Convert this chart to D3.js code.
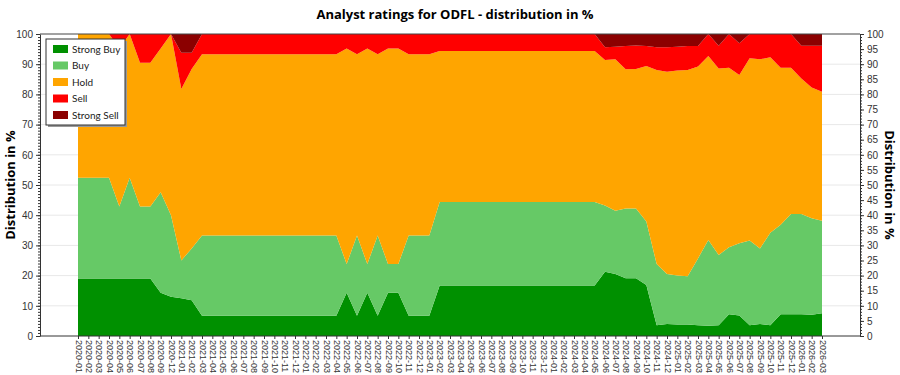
<!DOCTYPE html>
<html>
<head>
<meta charset="utf-8">
<script src="https://cdn.jsdelivr.net/npm/d3@7.9.0/dist/d3.min.js"></script>
<style>
  body { margin: 0; background: #fff; }
  svg { font-family: 'Open Sans', 'Noto Sans', sans-serif; }
  .axis text { fill: #333; font-size: 10px; }
  .axis path, .axis line { stroke: #333; }
  .legend-label { font-family: Lato, 'Liberation Sans', sans-serif; font-size: 10px; fill: #222; }
</style>
</head>
<body>
<svg id="chart" width="900" height="375"></svg>
<script>
// ====== DATA ======

const months = [
  '2020-01', '2020-02', '2020-03', '2020-04', '2020-05', '2020-06', '2020-07', '2020-08', '2020-09', '2020-12',
  '2021-01', '2021-02', '2021-03', '2021-04', '2021-05', '2021-06', '2021-07', '2021-08', '2021-09', '2021-10', '2021-11', '2021-12',
  '2022-01', '2022-02', '2022-03', '2022-04', '2022-05', '2022-06', '2022-07', '2022-08', '2022-09', '2022-10', '2022-11', '2022-12',
  '2023-01', '2023-02', '2023-03', '2023-04', '2023-05', '2023-06', '2023-07', '2023-08', '2023-09', '2023-10', '2023-11', '2023-12',
  '2024-01', '2024-02', '2024-03', '2024-04', '2024-05', '2024-06', '2024-07', '2024-08', '2024-09', '2024-10', '2024-11', '2024-12',
  '2025-01', '2025-02', '2025-03', '2025-04', '2025-05', '2025-06', '2025-07', '2025-08', '2025-09', '2025-10', '2025-11', '2025-12',
  '2026-01', '2026-02', '2026-03'
];

// share of each rating in %, one value per month
const strongBuy = [
  19.0, 19.0, 19.0, 19.0, 19.0, 19.0, 19.0, 19.0, 14.3, 13.0,
  12.5, 11.8, 6.7, 6.7, 6.7, 6.7, 6.7, 6.7, 6.7, 6.7, 6.7, 6.7,
  6.7, 6.7, 6.7, 6.7, 14.3, 6.7, 14.3, 6.7, 14.3, 14.3, 6.7, 6.7,
  6.7, 16.7, 16.7, 16.7, 16.7, 16.7, 16.7, 16.7, 16.7, 16.7, 16.7, 16.7,
  16.7, 16.7, 16.7, 16.7, 16.7, 21.3, 20.5, 19.1, 19.1, 16.9, 3.6, 4.0,
  3.8, 3.8, 3.6, 3.4, 3.6, 7.2, 6.8, 3.6, 4.0, 3.6, 7.2, 7.2,
  7.2, 7.0, 7.5
];
const buy = [
  33.4, 33.4, 33.4, 33.4, 23.9, 33.4, 23.9, 23.9, 33.3, 27.0,
  12.5, 17.2, 26.6, 26.6, 26.6, 26.6, 26.6, 26.6, 26.6, 26.6, 26.6, 26.6,
  26.6, 26.6, 26.6, 26.6, 9.5, 26.6, 9.5, 26.6, 9.5, 9.5, 26.6, 26.6,
  26.6, 27.7, 27.7, 27.7, 27.7, 27.7, 27.7, 27.7, 27.7, 27.7, 27.7, 27.7,
  27.7, 27.7, 27.7, 27.7, 27.7, 21.9, 21.0, 23.1, 23.1, 21.0, 20.2, 16.5,
  16.2, 16.0, 22.1, 28.4, 23.2, 22.2, 23.9, 28.0, 25.0, 30.6, 29.6, 33.2,
  33.2, 32.0, 30.7
];
const hold = [
  47.6, 47.6, 47.6, 47.6, 52.3, 47.6, 47.6, 47.6, 47.6, 60.0,
  56.8, 59.4, 60.0, 60.0, 60.0, 60.0, 60.0, 60.0, 60.0, 60.0, 60.0, 60.0,
  60.0, 60.0, 60.0, 60.0, 71.4, 60.0, 71.4, 60.0, 71.4, 71.4, 60.0, 60.0,
  60.0, 50.0, 50.0, 50.0, 50.0, 50.0, 50.0, 50.0, 50.0, 50.0, 50.0, 50.0,
  50.0, 50.0, 50.0, 50.0, 50.0, 48.2, 50.1, 46.1, 46.2, 51.5, 64.3, 67.0,
  67.9, 68.3, 63.5, 60.9, 61.8, 59.4, 55.7, 60.4, 62.6, 58.1, 52.0, 48.4,
  44.9, 43.3, 42.7
];
const sell = [
  0, 0, 0, 0, 4.8, 0, 9.5, 9.5, 4.8, 0,
  12.0, 5.4, 6.7, 6.7, 6.7, 6.7, 6.7, 6.7, 6.7, 6.7, 6.7, 6.7,
  6.7, 6.7, 6.7, 6.7, 4.8, 6.7, 4.8, 6.7, 4.8, 4.8, 6.7, 6.7,
  6.7, 5.6, 5.6, 5.6, 5.6, 5.6, 5.6, 5.6, 5.6, 5.6, 5.6, 5.6,
  5.6, 5.6, 5.6, 5.6, 5.6, 4.2, 4.2, 7.7, 7.8, 6.6, 7.5, 8.1,
  7.9, 7.9, 6.8, 7.3, 7.5, 11.2, 10.5, 8.0, 8.4, 7.7, 11.2, 11.2,
  10.8, 13.8, 15.2
];
const strongSell = [
  0, 0, 0, 0, 0, 0, 0, 0, 0, 0,
  6.2, 6.2, 0, 0, 0, 0, 0, 0, 0, 0, 0, 0,
  0, 0, 0, 0, 0, 0, 0, 0, 0, 0, 0, 0,
  0, 0, 0, 0, 0, 0, 0, 0, 0, 0, 0, 0,
  0, 0, 0, 0, 0, 4.4, 4.2, 4.0, 3.8, 4.0, 4.4, 4.4,
  4.2, 4.0, 4.0, 0, 3.9, 0, 3.1, 0, 0, 0, 0, 0,
  3.9, 3.9, 3.9
];

const seriesNames = ['Strong Buy', 'Buy', 'Hold', 'Sell', 'Strong Sell'];
const seriesColors = ['#009000', '#66c966', '#ffa500', '#ff0000', '#8b0000'];

// ====== LAYOUT ======

const svg = d3.select('#chart');
const frame = { left: 40, right: 860, top: 34, bottom: 336 };

const rows = months.map((m, i) => ({
  month: m,
  'Strong Buy': strongBuy[i],
  'Buy': buy[i],
  'Hold': hold[i],
  'Sell': sell[i],
  'Strong Sell': strongSell[i],
}));

const x = d3.scalePoint().domain(months).range([78, 822]);
const y = d3.scaleLinear().domain([0, 100]).range([frame.bottom, frame.top]);
const color = d3.scaleOrdinal().domain(seriesNames).range(seriesColors);

// ====== GRID ======

svg.append('g')
  .selectAll('line')
  .data(d3.range(10, 100, 10))
  .join('line')
  .attr('x1', frame.left)
  .attr('x2', frame.right)
  .attr('y1', (d) => y(d))
  .attr('y2', (d) => y(d))
  .attr('stroke', '#e8e8e8');

// ====== AREAS ======

const stacked = d3.stack().keys(seriesNames)(rows);

const area = d3.area()
  .x((d) => x(d.data.month))
  .y0((d) => y(d[0]))
  .y1((d) => y(d[1]));

svg.append('g')
  .selectAll('path')
  .data(stacked)
  .join('path')
  .attr('fill', (d) => color(d.key))
  .attr('d', area);

// ====== AXES ======

// top border
svg.append('line')
  .attr('x1', frame.left).attr('x2', frame.right)
  .attr('y1', frame.top).attr('y2', frame.top)
  .attr('stroke', '#444');

const xAxis = svg.append('g')
  .attr('class', 'axis')
  .attr('transform', `translate(0,${frame.bottom})`)
  .call(d3.axisBottom(x).tickSize(3).tickSizeOuter(0));
xAxis.select('.domain').attr('d', `M${frame.left},0H${frame.right}`);
xAxis.selectAll('text')
  .style('font-size', '9px')
  .attr('text-anchor', 'start')
  .attr('transform', 'rotate(90)')
  .attr('x', 4)
  .attr('y', 0)
  .attr('dy', '0.32em');

function addYAxis(axisFn, xPos, step) {
  // minor ticks first, then labelled ticks
  svg.append('g')
    .attr('class', 'axis')
    .attr('transform', `translate(${xPos},0)`)
    .call(axisFn(y).tickValues(d3.range(0, 101, 1)).tickSize(2).tickFormat(''))
    .call((g) => g.select('.domain').remove());
  svg.append('g')
    .attr('class', 'axis')
    .attr('transform', `translate(${xPos},0)`)
    .call(axisFn(y).tickValues(d3.range(0, 101, step)).tickSize(4).tickSizeOuter(0));
}

addYAxis(d3.axisLeft, frame.left, 10);
addYAxis(d3.axisRight, frame.right, 5);

// ====== TITLES ======

svg.append('text')
  .attr('x', 455)
  .attr('y', 19)
  .attr('text-anchor', 'middle')
  .style('font-size', '13px')
  .style('font-weight', 'bold')
  .text('Analyst ratings for ODFL - distribution in %');

svg.append('text')
  .attr('transform', `translate(15,${(frame.top + frame.bottom) / 2}) rotate(-90)`)
  .attr('text-anchor', 'middle')
  .style('font-size', '13px')
  .style('font-weight', 'bold')
  .text('Distribution in %');

svg.append('text')
  .attr('transform', `translate(885,${(frame.top + frame.bottom) / 2}) rotate(90)`)
  .attr('text-anchor', 'middle')
  .style('font-size', '13px')
  .style('font-weight', 'bold')
  .text('Distribution in %');

// ====== LEGEND ======

const legend = svg.append('g').attr('transform', 'translate(46,39)');

legend.append('rect')
  .attr('x', 2).attr('y', 2)
  .attr('width', 79).attr('height', 86)
  .attr('fill', '#999');
legend.append('rect')
  .attr('width', 79).attr('height', 86)
  .attr('fill', '#fff')
  .attr('stroke', '#333');

const items = legend.selectAll('g.item')
  .data(seriesNames)
  .join('g')
  .attr('class', 'item')
  .attr('transform', (d, i) => `translate(7,${10 + i * 16.5})`);

items.append('rect')
  .attr('y', -4)
  .attr('width', 15)
  .attr('height', 8)
  .attr('fill', (d) => color(d));

items.append('text')
  .attr('class', 'legend-label')
  .attr('x', 19)
  .attr('dy', '0.35em')
  .text((d) => d);
</script>
</body>
</html>
